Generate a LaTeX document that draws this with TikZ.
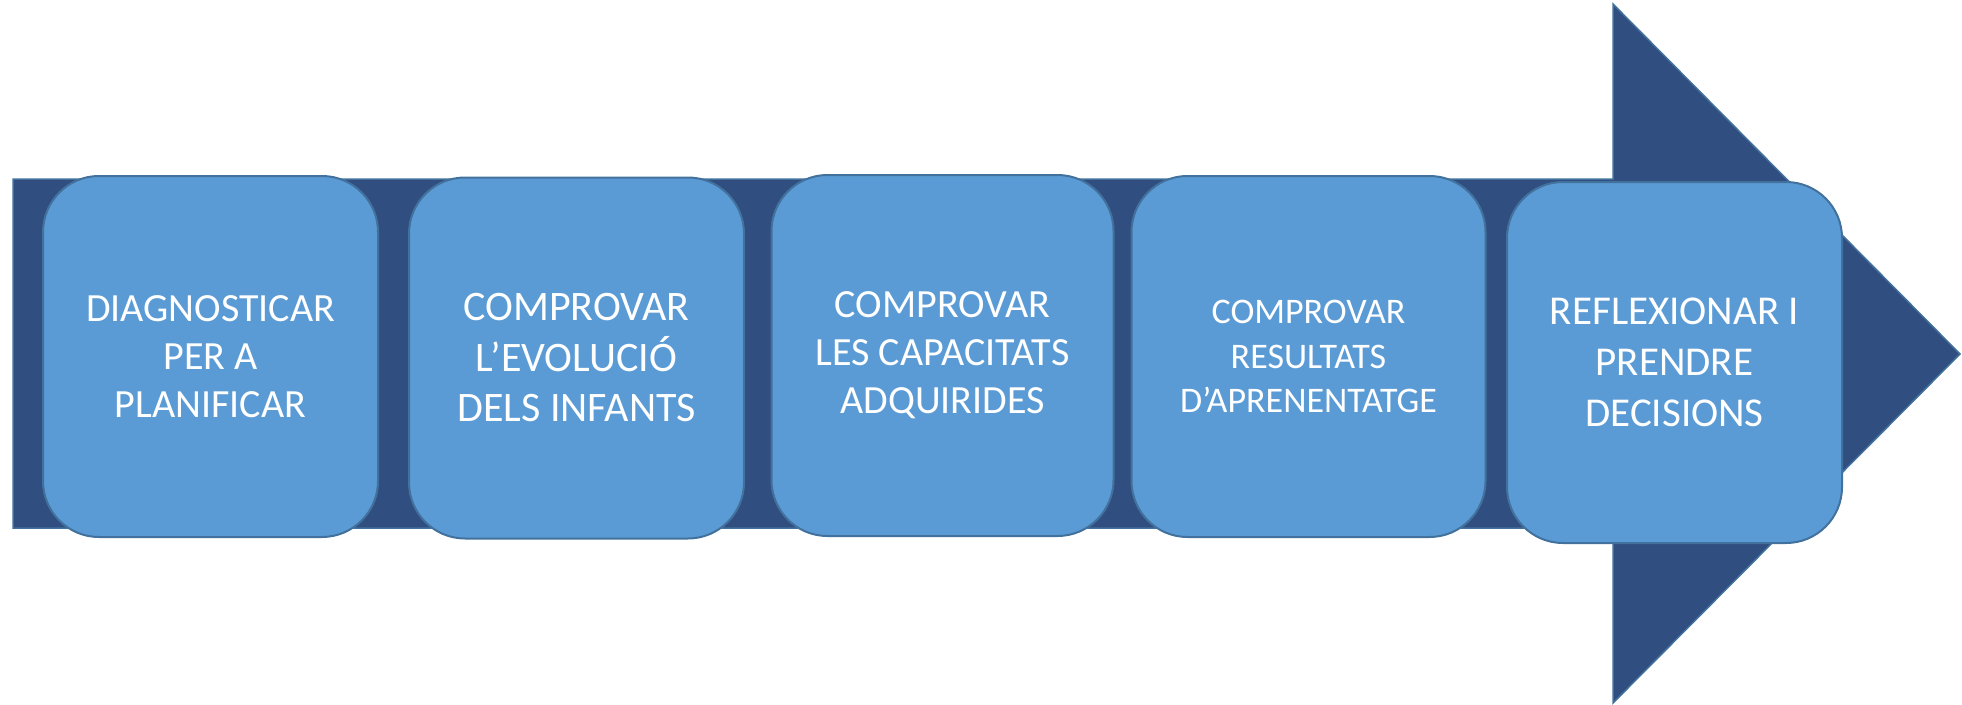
\documentclass[tikz,border=0pt]{standalone}
\usepackage{fontspec}
\setmainfont{Carlito}
\usetikzlibrary{positioning}
\definecolor{arrowblue}{HTML}{314E80}
\definecolor{boxblue}{HTML}{5B9BD5}
\definecolor{edgeblue}{HTML}{41719C}

\begin{document}
\begin{tikzpicture}[x=1pt,y=-1pt,node distance=366pt,on grid,
    stage/.style={draw=edgeblue,line width=2pt,fill=boxblue,rounded corners=56pt,
      text=white,align=center,minimum width=335pt,minimum height=361pt,inner sep=0pt}]
    \useasboundingbox (0,0) rectangle (1962,704);

    % big arrow behind the stages
    \draw[draw=edgeblue,line width=1.5pt,fill=arrowblue]
      (13,179) -- (1613,179) -- (1613,4) -- (1960,354) -- (1613,703)
      -- (1613,528) -- (13,528) -- cycle;

    \node[stage,font=\fontsize{40}{48}\selectfont] (diag) at (210.5,356.5)
      {DIAGNOSTICAR\\PER A\\PLANIFICAR};
    \node[stage,font=\fontsize{42}{50.5}\selectfont] (evol) [right=of diag,yshift=-1.5pt]
      {COMPROVAR\\L’EVOLUCIÓ\\DELS INFANTS};
    \node[stage,minimum width=342pt,font=\fontsize{40}{48}\selectfont] (capac) [right=of diag,xshift=366pt,yshift=1pt]
      {COMPROVAR\\LES CAPACITATS\\ADQUIRIDES};
    \node[stage,minimum width=354pt,font=\fontsize{36}{44.5}\selectfont] (result) [right=of capac,yshift=-1pt]
      {COMPROVAR\\RESULTATS\\D’APRENENTATGE};
    \node[stage,font=\fontsize{41}{51}\selectfont] (reflex) [right=of result,yshift=-6pt]
      {REFLEXIONAR I\\PRENDRE\\DECISIONS};
\end{tikzpicture}
\end{document}
